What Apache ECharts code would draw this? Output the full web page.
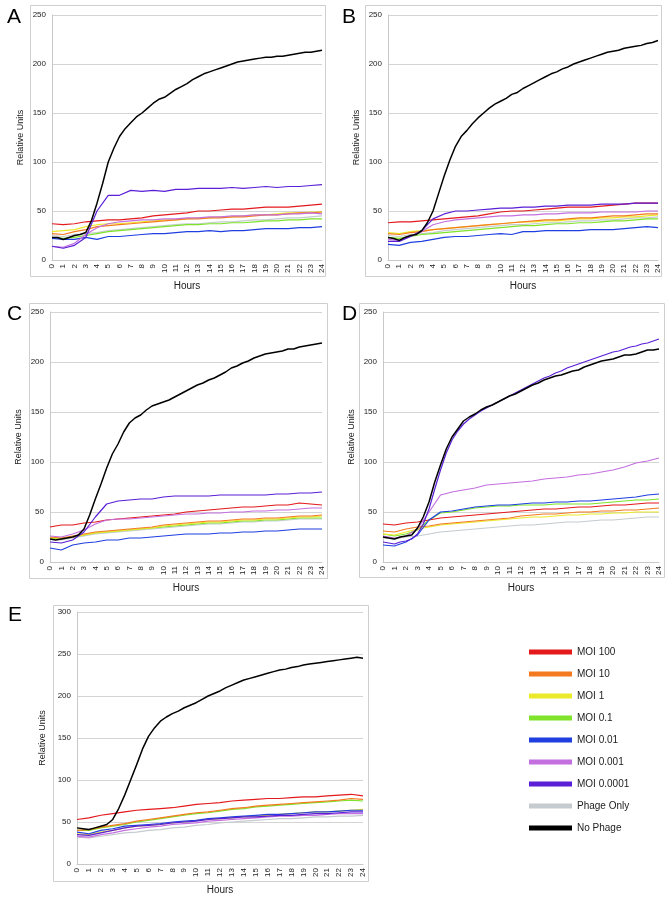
<!DOCTYPE html>
<html><head><meta charset="utf-8">
<script src="https://cdn.jsdelivr.net/npm/echarts@6/dist/echarts.min.js"></script>
<style>html,body{margin:0;padding:0;background:#fff}#c{width:672px;height:900px}</style>
</head><body><div id="c"></div>
<script>
// ---- tick labels / categories ----
const HOURS = [0,1,2,3,4,5,6,7,8,9,10,11,12,13,14,15,16,17,18,19,20,21,22,23,24];
const HALF_HOURS = [0,0.5,1,1.5,2,2.5,3,3.5,4,4.5,5,5.5,6,6.5,7,7.5,8,8.5,9,9.5,10,10.5,11,11.5,12,12.5,13,13.5,14,14.5,15,15.5,16,16.5,17,17.5,18,18.5,19,19.5,20,20.5,21,21.5,22,22.5,23,23.5,24];
const PANELS = ['A','B','C','D','E'];
const SERIES_NAMES = ['MOI 100','MOI 10','MOI 1','MOI 0.1','MOI 0.01','MOI 0.001','MOI 0.0001','Phage Only','No Phage'];
const Y_MAX = [250,250,250,250,300];

// ---- Panel A ----
const a_red    = [37,36,37,39,40,41,41,42,43,45,46,47,48,50,50,51,52,52,53,54,54,54,55,56,57];
const a_orange = [27,26,29,31,34,35,36,37,38,39,40,41,42,42,43,43,44,44,45,46,46,47,48,48,49];
const a_yellow = [29,30,31,34,36,37,37,38,39,40,41,41,42,43,43,44,44,45,46,46,47,48,48,49,49];
const a_green  = [23,22,23,25,27,29,30,31,32,33,34,35,36,36,37,37,38,38,39,40,40,41,41,42,42];
const a_blue   = [22,21,21,23,21,24,24,25,26,27,27,28,29,29,30,29,30,30,31,32,32,32,33,33,34];
const a_lilac  = [14,13,17,26,33,37,39,40,41,41,42,42,43,43,44,44,45,45,46,46,46,47,47,48,47];
const a_purple = [14,12,15,23,50,66,66,71,70,71,70,72,72,73,73,73,74,73,74,75,74,75,75,76,77];
const a_gray   = [25,24,26,27,28,30,31,32,33,34,35,36,37,37,38,39,39,40,41,41,42,43,43,44,45];
const a_black  = [23,23,21,23,25,26,28,40,58,78,100,114,126,134,140,146,150,155,160,164,166,170,174,177,180,184,187,190,192,194,196,198,200,202,203,204,205,206,207,207,208,208,209,210,211,212,212,213,214];

// ---- Panel B ----
const b_red    = [38,39,39,40,41,42,43,44,45,47,49,50,50,51,52,53,54,54,54,55,56,57,58,58,58];
const b_orange = [27,26,28,29,31,32,33,34,35,36,37,38,39,40,41,41,42,43,43,44,45,45,46,47,47];
const b_yellow = [28,27,29,30,31,32,33,34,35,36,37,38,39,39,40,40,41,42,42,43,43,44,44,45,46];
const b_green  = [23,22,24,26,27,28,29,30,31,32,33,34,35,35,36,37,37,38,38,39,40,40,41,42,42];
const b_blue   = [16,15,18,19,21,23,24,24,25,26,27,26,29,29,30,30,30,30,31,31,31,32,33,34,33];
const b_lilac  = [21,20,24,29,36,39,41,42,43,44,45,45,46,46,47,47,48,48,48,49,49,49,49,50,50];
const b_purple = [19,19,24,30,42,47,50,50,51,52,53,53,54,54,55,55,56,56,56,57,57,57,58,58,58];
const b_gray   = [25,24,26,27,28,30,31,32,33,34,35,36,36,37,38,38,39,40,40,41,41,42,43,43,44];
const b_black  = [23,22,20,23,25,26,30,38,50,68,86,102,116,126,132,139,145,150,155,159,162,165,169,171,175,178,181,184,187,190,192,195,197,200,202,204,206,208,210,212,213,214,216,217,218,219,221,222,224];

// ---- Panel C ----
const c_red    = [35,37,37,39,40,42,43,44,45,46,47,48,50,51,52,53,54,55,55,56,57,57,59,58,57];
const c_orange = [25,24,26,28,30,31,32,33,34,35,37,38,39,40,41,41,42,43,43,44,44,45,46,46,47];
const c_yellow = [24,24,25,27,29,30,31,32,33,34,36,37,38,39,40,40,41,42,42,43,43,44,45,45,46];
const c_green  = [24,23,25,27,29,30,31,32,33,34,35,36,37,38,39,39,40,41,41,42,42,43,44,44,44];
const c_blue   = [14,12,17,19,20,22,22,24,24,25,26,27,28,28,28,29,29,30,30,31,31,32,33,33,33];
const c_lilac  = [26,25,28,32,38,42,43,43,44,45,46,47,48,48,49,49,50,50,51,51,52,52,53,54,54];
const c_purple = [20,19,22,30,45,58,61,62,63,63,65,66,66,66,66,67,67,67,67,67,68,68,69,69,70];
const c_gray   = [23,22,24,26,28,29,30,31,32,33,34,35,36,37,38,38,39,40,40,41,41,42,43,43,43];
const c_black  = [23,22,23,24,25,27,33,47,63,78,94,108,118,130,139,144,147,152,156,158,160,162,165,168,171,174,177,179,182,184,187,190,194,196,199,201,204,206,208,209,210,211,213,213,215,216,217,218,219];

// ---- Panel D ----
const d_red    = [38,37,39,40,42,44,45,46,47,48,49,50,51,52,53,53,54,55,55,56,57,57,58,59,59];
const d_orange = [31,30,33,35,36,38,39,40,41,42,43,44,46,47,48,48,49,50,50,51,51,52,52,53,54];
const d_yellow = [28,27,30,33,35,37,38,39,40,41,42,43,44,45,45,46,47,47,48,48,49,49,50,50,50];
const d_green  = [28,26,28,32,42,49,50,52,54,55,56,56,57,57,57,58,58,58,58,59,60,61,62,62,63];
const d_blue   = [17,16,20,27,42,50,51,53,55,56,57,57,58,59,59,60,60,61,61,62,63,64,65,67,68];
const d_lilac  = [26,24,26,33,50,67,70,72,74,77,78,79,80,81,83,84,85,87,88,90,92,95,99,101,104];
const d_purple = [20,19,18,20,21,23,28,38,53,73,92,109,122,131,138,143,147,151,154,157,160,163,166,169,172,175,178,181,184,186,189,191,194,196,198,200,202,204,206,208,210,211,213,215,216,218,219,221,223];
const d_gray   = [24,23,25,26,28,30,31,32,33,34,35,36,37,37,38,39,40,40,41,42,42,43,44,45,45];
const d_black  = [25,24,23,25,26,27,34,45,60,80,97,113,125,133,141,145,148,152,155,157,160,163,166,168,171,174,177,179,182,184,186,187,189,191,192,195,197,199,201,202,203,205,207,207,208,210,212,212,213];

// ---- Panel E ----
const e_red    = [53,55,58,60,62,64,65,66,67,69,71,72,73,75,76,77,78,78,79,80,80,81,82,83,81];
const e_orange = [40,41,44,46,48,51,53,55,57,59,61,62,64,66,67,69,70,71,72,73,74,75,76,78,77];
const e_yellow = [36,35,38,40,43,45,46,47,49,50,52,53,54,55,56,57,58,59,60,61,62,62,63,64,65];
const e_green  = [40,40,43,45,47,50,52,54,56,58,60,61,63,65,66,68,69,70,71,72,73,74,75,76,75];
const e_blue   = [38,36,40,42,45,46,47,48,50,51,52,54,55,56,57,58,59,59,60,61,62,62,63,64,64];
const e_lilac  = [33,32,35,37,40,42,44,45,47,48,49,51,52,53,54,55,56,57,57,58,58,59,60,60,60];
const e_purple = [35,34,37,40,43,45,46,47,49,50,51,53,54,55,56,56,57,58,58,59,60,60,61,62,62];
const e_gray   = [32,31,33,35,37,38,40,41,43,44,46,47,49,50,51,52,53,54,54,55,56,56,57,57,58];
const e_black  = [43,42,41,43,45,47,53,66,82,100,118,137,152,162,170,175,179,182,186,189,192,196,200,203,206,210,213,216,219,221,223,225,227,229,231,232,234,235,237,238,239,240,241,242,243,244,245,246,245];

const PANEL_DATA = [
  [a_red,a_orange,a_yellow,a_green,a_blue,a_lilac,a_purple,a_gray,a_black],
  [b_red,b_orange,b_yellow,b_green,b_blue,b_lilac,b_purple,b_gray,b_black],
  [c_red,c_orange,c_yellow,c_green,c_blue,c_lilac,c_purple,c_gray,c_black],
  [d_red,d_orange,d_yellow,d_green,d_blue,d_lilac,d_purple,d_gray,d_black],
  [e_red,e_orange,e_yellow,e_green,e_blue,e_lilac,e_purple,e_gray,e_black]
];

// ---- styling ----
const COLORS = ['#e3191c','#f47a20','#ece92a','#7ee32a','#1f3fe0','#c46fe0','#5a1fd6','#c5cbcf','#000000'];
const WIDTHS = [1.2,1.2,1.2,1.2,1.2,1.2,1.2,1.2,1.5];
const DRAW_ORDER = [7,3,2,1,0,4,5,6,8];
const FONT = 'Liberation Sans, Arial, sans-serif';

const GRIDS = [
  {left:52, top:15, width:270, height:245},
  {left:388, top:15, width:270, height:245},
  {left:50, top:312, width:272, height:250},
  {left:383, top:312, width:276, height:250},
  {left:77, top:612, width:286, height:252}
];
const BOXES = [
  {x:30, y:5, w:295, h:271},
  {x:365, y:5, w:296, h:271},
  {x:29, y:303, w:298, h:275},
  {x:359, y:303, w:305, h:274},
  {x:53, y:605, w:315, h:276}
];
const LETTER_POS = [[7,7],[342,7],[7,304],[342,304],[8,605]];

const chart = echarts.init(document.getElementById('c'), null, {renderer:'canvas'});

const grid = [], xAxis = [], yAxis = [], series = [];
PANELS.forEach((p, i) => {
  grid.push(Object.assign({containLabel:false}, GRIDS[i]));
  xAxis.push({
    type:'value', gridIndex:i, min:0, max:24, interval:1,
    name:'Hours', nameLocation:'middle', nameGap: i === 4 ? 21 : 21,
    nameTextStyle:{fontSize:10, color:'#222', fontFamily:FONT},
    axisLine:{show:true, lineStyle:{color:'#c8c8c8', width:1}},
    axisTick:{show:false}, splitLine:{show:false},
    axisLabel:{rotate:90, fontSize:8, color:'#222', margin:4, fontFamily:FONT,
      formatter: v => HOURS.indexOf(v) >= 0 ? String(v) : ''}
  });
  yAxis.push({
    type:'value', gridIndex:i, min:0, max:Y_MAX[i], interval:50,
    name:'Relative Units', nameLocation:'middle', nameRotate:90,
    nameGap: i === 4 ? 30 : 27,
    nameTextStyle:{fontSize:9, color:'#222', fontFamily:FONT},
    axisLine:{show:true, lineStyle:{color:'#c8c8c8', width:1}},
    axisTick:{show:false},
    splitLine:{show:true, lineStyle:{color:'#d4d4d4', width:1}},
    axisLabel:{fontSize:8, color:'#222', margin:6, fontFamily:FONT}
  });
  DRAW_ORDER.forEach(k => {
    const vals = PANEL_DATA[i][k];
    const xs = vals.length === HALF_HOURS.length ? HALF_HOURS : HOURS;
    series.push({
      type:'line', name:SERIES_NAMES[k], xAxisIndex:i, yAxisIndex:i,
      data: vals.map((v, j) => [xs[j], v]),
      symbol:'none', showSymbol:false, animation:false,
      lineStyle:{color:COLORS[k], width:WIDTHS[k]},
      itemStyle:{color:COLORS[k]}
    });
  });
});

const graphic = [];
BOXES.forEach(b => graphic.push({
  type:'rect', shape:{x:b.x+0.5, y:b.y+0.5, width:b.w, height:b.h},
  style:{fill:'none', stroke:'#cfcfcf', lineWidth:1}, silent:true, z:-1
}));
PANELS.forEach((p, i) => graphic.push({
  type:'text', left:LETTER_POS[i][0], top:LETTER_POS[i][1],
  style:{text:p, fontSize:21, fill:'#000', fontFamily:FONT}
}));

chart.setOption({
  backgroundColor:'#fff',
  animation:false,
  grid, xAxis, yAxis, series, graphic,
  legend:{
    show:true, orient:'vertical', left:529, top:647, padding:0,
    itemWidth:43, itemHeight:5, itemGap:12, icon:'rect',
    selectedMode:false,
    textStyle:{fontSize:10, color:'#222', fontFamily:FONT},
    data: SERIES_NAMES.map((n, k) => ({name:n, itemStyle:{color:COLORS[k]}}))
  }
});
</script></body></html>
